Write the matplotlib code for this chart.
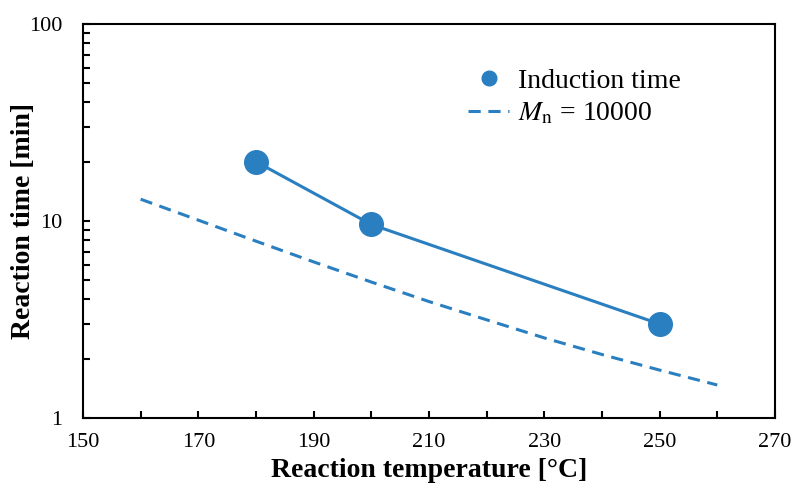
import matplotlib.pyplot as plt
from matplotlib.ticker import FixedLocator, LogLocator, NullFormatter

plt.rcParams['font.family'] = 'Liberation Serif'
plt.rcParams['mathtext.fontset'] = 'stix'

# induction time measurements
temp_pts = [180, 200, 250]
time_pts = [20.0, 9.6, 3.0]

# Mn = 10000 curve
temp_curve = [160, 170, 180, 190, 200, 210, 220, 230, 240, 250, 260]
time_curve = [12.9, 10.1, 7.9, 6.2, 4.9, 3.9, 3.15, 2.55, 2.1, 1.75, 1.47]

blue = '#2a7fc1'

fig = plt.figure(figsize=(7.94, 4.9), dpi=100)
ax = fig.add_axes([0.1045, 0.147, 0.8715, 0.804])

ax.plot(temp_curve, time_curve, '--', color=blue, lw=2.2, dashes=(4, 2.5),
        label=r'$M_\mathrm{n}$ = 10000')
ax.plot(temp_pts, time_pts, '-', color=blue, lw=2.2)
ax.plot(temp_pts, time_pts, 'o', color=blue, ms=17, label='Induction time')

ax.set_yscale('log')
ax.set_xlim(150, 270)
ax.set_ylim(1, 100)
ax.xaxis.set_major_locator(FixedLocator(range(150, 271, 20)))
ax.xaxis.set_minor_locator(FixedLocator(range(160, 271, 20)))
ax.yaxis.set_major_locator(FixedLocator([1, 10, 100]))
ax.yaxis.set_minor_locator(LogLocator(base=10, subs=range(2, 10)))
ax.yaxis.set_minor_formatter(NullFormatter())
ax.set_yticklabels(['1', '10', '100'])

ax.tick_params(which='both', direction='in', width=1.5, labelsize=16, top=False, right=False)
ax.tick_params(which='major', length=5)
ax.tick_params(axis='x', which='major', pad=11)
ax.tick_params(axis='y', which='major', pad=15)
ax.tick_params(which='minor', length=5)
for s in ax.spines.values():
    s.set_linewidth(1.5)

ax.set_xlabel('Reaction temperature [\u00b0C]', fontsize=20, fontweight='bold', labelpad=4)
ax.set_ylabel('Reaction time [min]', fontsize=20, fontweight='bold')
ax.yaxis.set_label_coords(-0.068, 0.5)

h, l = ax.get_legend_handles_labels()
ax.legend([h[1], h[0]], [l[1], l[0]], loc='upper left', bbox_to_anchor=(0.556, 0.887),
          frameon=False, fontsize=20, markerscale=0.62, handlelength=1.5,
          handletextpad=0.3, labelspacing=0.25, borderpad=0, borderaxespad=0)

fig.savefig('out.png', dpi=100)
